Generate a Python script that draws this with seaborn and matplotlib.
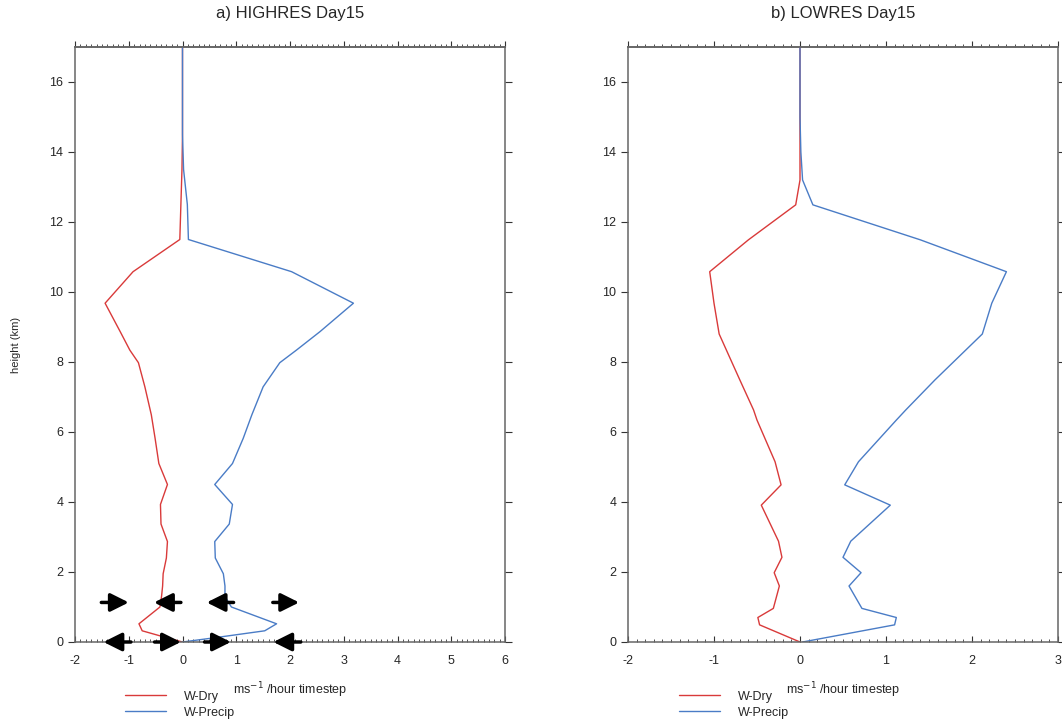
import numpy as np
import pandas as pd
import matplotlib
matplotlib.use("Agg")
import matplotlib.pyplot as plt
from matplotlib.ticker import MultipleLocator
import seaborn as sns

# Vertical profiles of the vertical-velocity tendency, HIGHRES run (km, m s-1 per hour)
z_hi = [0, 0.12, 0.32, 0.52, 1.0, 1.3, 1.6, 1.95, 2.4, 2.87, 3.37, 3.93, 4.5, 5.1,
        5.82, 6.49, 7.29, 7.98, 8.34, 8.87, 9.68, 10.58, 11.5, 12.5, 13.5, 14.5,
        15.5, 16.5, 17.0]
dry_hi = [0, -0.29, -0.75, -0.81, -0.42, -0.39, -0.37, -0.36, -0.30, -0.28, -0.40,
          -0.41, -0.28, -0.44, -0.51, -0.58, -0.70, -0.82, -0.98, -1.16, -1.44,
          -0.92, -0.05, -0.03, -0.01, 0, 0, 0, 0]
precip_hi = [0, 0.59, 1.53, 1.75, 0.91, 0.79, 0.79, 0.76, 0.61, 0.60, 0.87, 0.93,
             0.60, 0.93, 1.13, 1.29, 1.50, 1.81, 2.12, 2.56, 3.18, 2.03, 0.11, 0.09,
             0.02, 0, 0, 0, 0]

# Same profiles for the LOWRES run
z_lo = [0, 0.49, 0.70, 0.96, 1.6, 1.98, 2.42, 2.88, 3.91, 4.49, 5.15, 6.34, 6.63,
        7.49, 8.8, 9.68, 10.58, 11.49, 12.49, 13.2, 14.0, 15.0, 16.0, 17.0]
dry_lo = [0, -0.47, -0.49, -0.31, -0.24, -0.30, -0.21, -0.25, -0.45, -0.22, -0.29,
          -0.50, -0.54, -0.70, -0.94, -1.00, -1.05, -0.60, -0.05, 0, 0, 0, 0, 0]
precip_lo = [0.03, 1.10, 1.12, 0.72, 0.57, 0.71, 0.50, 0.59, 1.05, 0.52, 0.68, 1.12,
             1.23, 1.57, 2.12, 2.23, 2.40, 1.40, 0.15, 0.03, 0.01, 0, 0, 0]

series_names = ["W-Dry", "W-Precip"]
titles = ["a) HIGHRES Day15", "b) LOWRES Day15"]
x_limits = [(-2, 6), (-2, 3)]

# Flow-direction arrows in panel a (height, tail, head)
arrow_z = [1.13, 1.13, 1.13, 1.13, 0, 0, 0, 0]
arrow_tail = [-1.51, -0.03, 0.95, 1.68, -0.96, -0.52, 0.41, 2.20]
arrow_head = [-1.00, -0.53, 0.45, 2.17, -1.47, -0.03, 0.90, 1.69]

palette = {"W-Dry": "#d93a3a", "W-Precip": "#4a7cc6"}


def profile_frame(z, dry, precip):
    return pd.concat([
        pd.DataFrame({"z": z, "w": dry, "series": series_names[0]}),
        pd.DataFrame({"z": z, "w": precip, "series": series_names[1]}),
    ], ignore_index=True)


sns.set_theme(style="ticks")
plt.rcParams["font.family"] = ["Liberation Sans", "DejaVu Sans"]
plt.rcParams["axes.unicode_minus"] = False

fig = plt.figure(figsize=(10.62, 7.22), dpi=100)
ax_w, ax_h, ax_b = 430 / 1062, 595 / 722, 80 / 722
axes = [fig.add_axes([75 / 1062, ax_b, ax_w, ax_h]),
        fig.add_axes([628 / 1062, ax_b, ax_w, ax_h])]

frames = [profile_frame(z_hi, dry_hi, precip_hi), profile_frame(z_lo, dry_lo, precip_lo)]
legend_x = [0.116, 0.119]
spine_col = "#666666"

for ax, df, title, xl, lx in zip(axes, frames, titles, x_limits, legend_x):
    sns.lineplot(data=df, x="w", y="z", hue="series", palette=palette,
                 sort=False, estimator=None, orient="y", lw=1.0, ax=ax)
    ax.set_xlim(*xl)
    ax.set_ylim(0, 17)
    ax.set_title(title, fontsize=12, pad=21)
    ax.set_xlabel(r"ms$^{-1}$ /hour timestep", fontsize=9, labelpad=10)
    ax.set_ylabel("")
    ax.xaxis.set_major_locator(MultipleLocator(1))
    ax.xaxis.set_minor_locator(MultipleLocator(0.1))
    ax.yaxis.set_major_locator(MultipleLocator(2))
    ax.tick_params(axis="x", which="major", direction="in", length=4, width=0.8,
                   color="#333333", labelsize=9, pad=9)
    ax.tick_params(axis="x", which="minor", direction="in", length=2.5, width=0.6,
                   color="#333333")
    ax.tick_params(axis="y", which="major", direction="out", length=5, width=0.8,
                   color="#333333", labelsize=9, right=True)
    for sp in ax.spines.values():
        sp.set_visible(True)
        sp.set_color(spine_col)
        sp.set_linewidth(1.1)

    top = ax.secondary_xaxis("top")
    top.xaxis.set_major_locator(MultipleLocator(1))
    top.xaxis.set_minor_locator(MultipleLocator(0.1))
    top.tick_params(axis="x", which="major", direction="out", length=4, width=0.8,
                    color="#333333", labeltop=False)
    top.tick_params(axis="x", which="minor", direction="out", length=2.5, width=0.6,
                    color="#333333")
    top.spines["top"].set_color(spine_col)

    handles, labels = ax.get_legend_handles_labels()
    ax.legend(handles, labels, loc="upper left", bbox_to_anchor=(lx, -0.082),
              frameon=False, fontsize=9, handlelength=3.3, handletextpad=1.4,
              labelspacing=0.3, borderpad=0, borderaxespad=0)

axes[0].set_ylabel("height (km)", fontsize=8, labelpad=20)

for z, t, h in zip(arrow_z, arrow_tail, arrow_head):
    axes[0].annotate("", xy=(h, z), xytext=(t, z), annotation_clip=False,
                     arrowprops=dict(arrowstyle="-|>,head_length=1.1,head_width=0.55",
                                     lw=2.5, color="black", shrinkA=0, shrinkB=0,
                                     mutation_scale=10), zorder=5)

fig.savefig("out.png", dpi=100)
